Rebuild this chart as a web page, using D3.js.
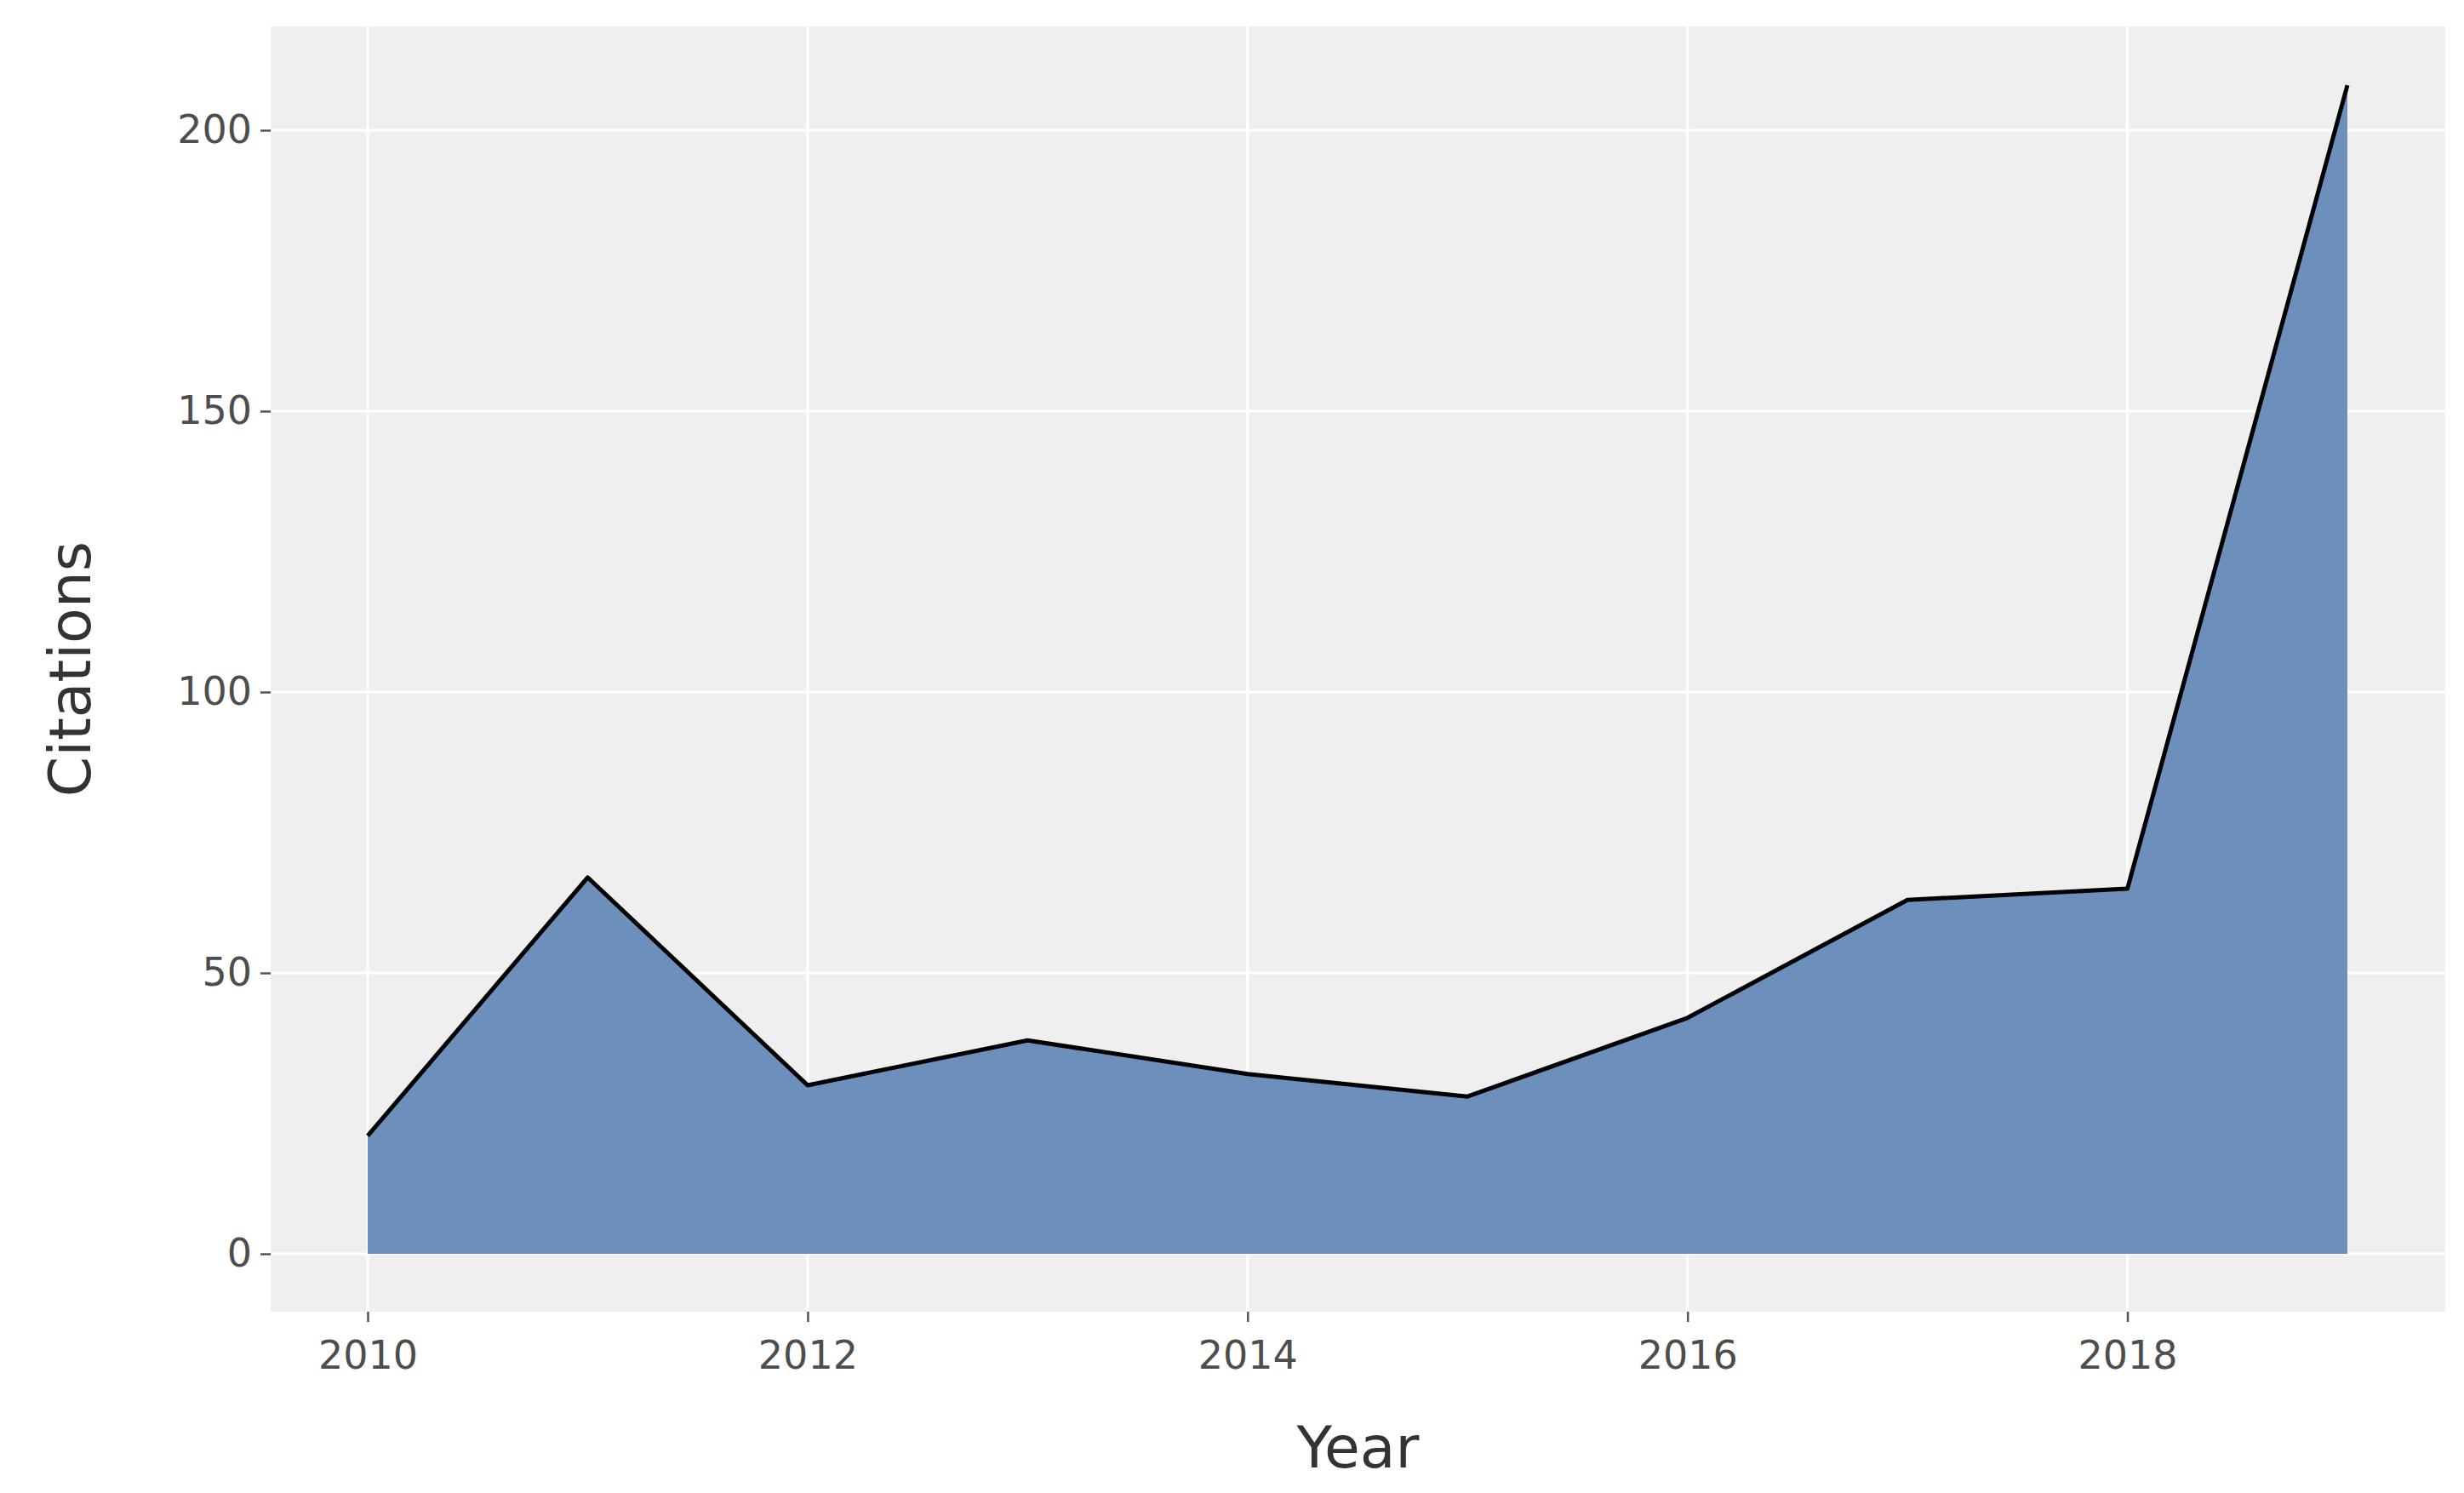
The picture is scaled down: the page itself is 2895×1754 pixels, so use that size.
<!DOCTYPE html>
<html><head><meta charset="utf-8">
<script src="https://cdn.jsdelivr.net/npm/d3@7"></script>
<style>body{margin:0;background:#fff}</style></head>
<body><svg id="c" width="2895" height="1754"></svg>
<script>
const years = [2010,2011,2012,2013,2014,2015,2016,2017,2018,2019];
const citations = [21,67,30,38,32,28,42,63,65,208];
const xTicks = [2010,2012,2014,2016,2018];
const yTicks = [0,50,100,150,200];

const svg = d3.select("#c");
const L=318,R=2873,T=31,B=1541;
const x = d3.scaleLinear().domain([2010,2019]).range([432,2758]);
const y = d3.scaleLinear().domain([0,200]).range([1473,153]);
const font = "DejaVu Sans, Verdana, sans-serif";

svg.append("rect").attr("x",L).attr("y",T).attr("width",R-L).attr("height",B-T).attr("fill","#efefef");
const g = svg.append("g");
yTicks.forEach(v=>g.append("line").attr("x1",L).attr("x2",R).attr("y1",y(v)).attr("y2",y(v)).attr("stroke","#fff").attr("stroke-width",3));
xTicks.forEach(v=>g.append("line").attr("y1",T).attr("y2",B).attr("x1",x(v)).attr("x2",x(v)).attr("stroke","#fff").attr("stroke-width",3));

const data = years.map((d,i)=>({x:d,y:citations[i]}));
svg.append("path").datum(data).attr("fill","#6d8fbb")
  .attr("d",d3.area().x(d=>x(d.x)).y0(y(0)).y1(d=>y(d.y)));
svg.append("path").datum(data).attr("fill","none").attr("stroke","#000").attr("stroke-width",5).attr("stroke-linejoin","round")
  .attr("d",d3.line().x(d=>x(d.x)).y(d=>y(d.y)));

const ya = svg.append("g").attr("transform",`translate(${L},0)`)
  .call(d3.axisLeft(y).tickValues(yTicks).tickSize(12).tickPadding(10));
const xa = svg.append("g").attr("transform",`translate(0,${B})`)
  .call(d3.axisBottom(x).tickValues(xTicks).tickFormat(d3.format("d")).tickSize(12).tickPadding(22));
[ya,xa].forEach(a=>{a.select(".domain").remove();
  a.selectAll(".tick line").attr("stroke","#555").attr("stroke-width",2.5);
  a.selectAll("text").attr("fill","#4d4d4d").attr("font-size",46).attr("font-family",font);});

svg.append("text").attr("x",(L+R)/2).attr("y",1724).attr("text-anchor","middle")
  .attr("font-family",font).attr("font-size",68).attr("fill","#333").text("Year");
svg.append("text").attr("transform",`translate(106,${(T+B)/2}) rotate(-90)`).attr("text-anchor","middle")
  .attr("font-family",font).attr("font-size",68).attr("fill","#333").text("Citations");
</script></body></html>
